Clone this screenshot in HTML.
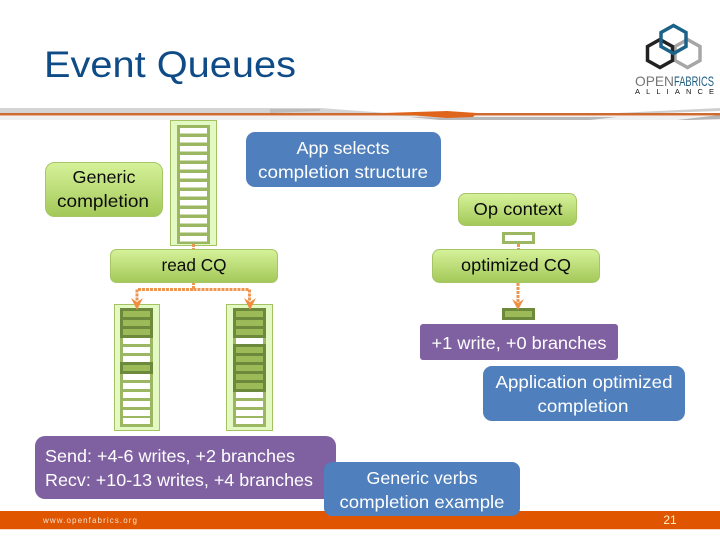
<!DOCTYPE html>
<html><head><meta charset="utf-8"><style>
html,body{margin:0;padding:0;background:#fff}
svg{display:block}
text{font-family:"Liberation Sans",sans-serif}
.d{fill:#0b0b0b;font-size:17.5px;text-anchor:middle}
.w{fill:#fff;font-size:17.5px;text-anchor:middle}
.wl{fill:#fff;font-size:17.5px}
</style></head><body>
<svg width="720" height="540" viewBox="0 0 720 540" xmlns="http://www.w3.org/2000/svg">
<defs>
<linearGradient id="g" x1="0" y1="0" x2="0" y2="1"><stop offset="0" stop-color="#d6f29a"/><stop offset="1" stop-color="#a3c858"/></linearGradient>
</defs>
<rect width="720" height="540" fill="#fff"/>

<!-- title -->
<text x="44" y="77" font-size="37" fill="#0f4c87" textLength="252" lengthAdjust="spacingAndGlyphs">Event Queues</text>

<!-- logo -->
<g fill="none" stroke-width="3.5">
<polygon points="687.500,39.500 700,46.500 700,60.500 687.500,67.500 675,60.500 675,46.500" stroke="#a6a6a6"/>
<polygon points="660,39.500 672.500,46.500 672.500,60.500 660,67.500 647.500,60.500 647.500,46.500" stroke="#222"/>
<polygon points="673.500,25.500 686,32.500 686,46.500 673.500,53.500 661,46.500 661,32.500" stroke="#1b6288"/>
</g>
<text x="635" y="86" font-size="14" fill="#777" textLength="39" lengthAdjust="spacingAndGlyphs">OPEN</text>
<text x="674" y="86" font-size="14" fill="#1b5b82" textLength="40" lengthAdjust="spacingAndGlyphs">FABRICS</text>
<text x="635" y="94" font-size="7.5" fill="#111" textLength="79">ALLIANCE</text>

<!-- header swoosh -->
<rect x="0" y="116" width="720" height="4" fill="#f0f0f0"/>
<polygon points="0,108 320,108 387,113 0,113" fill="#d4d4d4"/>
<polygon points="270,109 320,109 320,111 270,113" fill="#bdbdbd"/>
<polygon points="617,113 720,108 720,111 660,113" fill="#cfcfcf"/>
<polygon points="410,117 617,117 590,120 440,120" fill="#b8b8b8"/>
<polygon points="677,120 720,115 720,119 690,120" fill="#b5b5b5"/>
<polygon points="443,108 617,108 617,113 443,113" fill="#fff"/>
<polygon points="383,115 447,115 452,118 420,117" fill="#ddd"/>
<rect x="0" y="113" width="720" height="2.5" fill="#cf6a33"/>
<polygon points="383,113 447,111 477,113 473,117 447,118" fill="#e0651c"/>

<!-- footer -->
<rect x="0" y="511" width="720" height="18" fill="#e05500"/>
<rect x="0" y="529" width="720" height="1" fill="#f7d8c2"/>
<text x="43" y="523" font-size="8" fill="#f3e2d0" textLength="94">www.openfabrics.org</text>
<text x="670" y="524" font-size="12" fill="#fff0c8" text-anchor="middle">21</text>

<!-- queue 1 -->
<rect x="170.500" y="120.500" width="46" height="125" fill="#e4f8c4" stroke="#a3c262"/>
<rect x="177" y="125" width="33" height="119" fill="#9cb761"/>
<g fill="#fff">
<rect x="180" y="128" width="27" height="5.500"/><rect x="180" y="137" width="27" height="5.500"/><rect x="180" y="146" width="27" height="5.500"/><rect x="180" y="155" width="27" height="5.500"/><rect x="180" y="164" width="27" height="5.500"/><rect x="180" y="173" width="27" height="5.500"/><rect x="180" y="182" width="27" height="5.500"/><rect x="180" y="191" width="27" height="5.500"/><rect x="180" y="200" width="27" height="5.500"/><rect x="180" y="209" width="27" height="5.500"/><rect x="180" y="218" width="27" height="5.500"/><rect x="180" y="227" width="27" height="5.500"/><rect x="180" y="236" width="27" height="5.500"/>
</g>

<!-- queue 2 -->
<rect x="114.500" y="304.500" width="45" height="126" fill="#e4f8c4" stroke="#a3c262"/>
<rect x="120" y="308" width="33" height="119" fill="#9cb761"/>
<rect x="120" y="308" width="33" height="30" fill="#6d8a3c"/>
<rect x="120" y="362" width="33" height="12" fill="#6d8a3c"/>
<g fill="#9cbb58">
<rect x="123" y="311" width="27" height="6"/><rect x="123" y="320" width="27" height="6"/><rect x="123" y="329" width="27" height="6"/><rect x="123" y="365" width="27" height="6"/>
</g>
<g fill="#fff">
<rect x="123" y="338" width="27" height="6"/><rect x="123" y="347" width="27" height="6"/><rect x="123" y="356" width="27" height="6"/><rect x="123" y="374" width="27" height="6"/><rect x="123" y="383" width="27" height="6"/><rect x="123" y="392" width="27" height="6"/><rect x="123" y="401" width="27" height="6"/><rect x="123" y="410" width="27" height="6"/><rect x="123" y="418" width="27" height="6"/>
</g>

<!-- queue 3 -->
<rect x="226.500" y="304.500" width="46" height="126" fill="#e4f8c4" stroke="#a3c262"/>
<rect x="233" y="308" width="33" height="119" fill="#9cb761"/>
<rect x="233" y="308" width="33" height="30" fill="#6d8a3c"/>
<rect x="233" y="344" width="33" height="48" fill="#6d8a3c"/>
<g fill="#9cbb58">
<rect x="236" y="311" width="27" height="6"/><rect x="236" y="320" width="27" height="6"/><rect x="236" y="329" width="27" height="6"/><rect x="236" y="347" width="27" height="6"/><rect x="236" y="356" width="27" height="6"/><rect x="236" y="365" width="27" height="6"/><rect x="236" y="374" width="27" height="6"/><rect x="236" y="383" width="27" height="6"/>
</g>
<g fill="#fff">
<rect x="236" y="338" width="27" height="6"/><rect x="236" y="392" width="27" height="6"/><rect x="236" y="401" width="27" height="6"/><rect x="236" y="410" width="27" height="6"/><rect x="236" y="418" width="27" height="6"/>
</g>

<!-- small slots -->
<rect x="503.500" y="233.500" width="30" height="9" fill="#fff" stroke="#9cb761" stroke-width="3"/>
<rect x="503.500" y="309.500" width="30" height="9" fill="#9cbb58" stroke="#6d8a3c" stroke-width="3"/>

<!-- connectors -->
<g fill="none" stroke="#ee9650" stroke-width="3" stroke-dasharray="3 1">
<path d="M193.500 244V250"/>
<path d="M193.500 282V289.500H137V301"/>
<path d="M193.500 289.500H249.500V301"/>
<path d="M518.500 244V250"/>
<path d="M518 283V302"/>
</g>
<g fill="#ef8e42">
<polygon points="131,298 137,302 143,298 137,310"/>
<polygon points="244,298 250,302 256,298 250,310"/>
<polygon points="512,299 518,303 524,299 518,310"/>
</g>

<!-- green boxes -->
<g fill="url(#g)" stroke="#a6c566">
<rect x="45.500" y="162.500" width="117" height="54" rx="9"/>
<rect x="110.500" y="249.500" width="167" height="33" rx="6"/>
<rect x="458.500" y="193.500" width="118" height="32" rx="7"/>
<rect x="432.500" y="249.500" width="167" height="33" rx="7"/>
</g>
<text class="d" x="104" y="183" textLength="63" lengthAdjust="spacingAndGlyphs">Generic</text>
<text class="d" x="103" y="207" textLength="92" lengthAdjust="spacingAndGlyphs">completion</text>
<text class="d" x="194" y="271" textLength="65" lengthAdjust="spacingAndGlyphs">read CQ</text>
<text class="d" x="518" y="215" textLength="89" lengthAdjust="spacingAndGlyphs">Op context</text>
<text class="d" x="516" y="271" textLength="110" lengthAdjust="spacingAndGlyphs">optimized CQ</text>

<!-- purple boxes -->
<rect x="35" y="436" width="301" height="63" rx="10" fill="#7f60a1"/>
<text class="wl" x="45" y="462" textLength="250" lengthAdjust="spacingAndGlyphs">Send: +4-6 writes, +2 branches</text>
<text class="wl" x="45" y="486" textLength="268" lengthAdjust="spacingAndGlyphs">Recv: +10-13 writes, +4 branches</text>
<rect x="420" y="324" width="198" height="36" rx="3" fill="#7f60a1"/>
<text class="w" x="519" y="349" textLength="175" lengthAdjust="spacingAndGlyphs">+1 write, +0 branches</text>

<!-- blue boxes -->
<g fill="#4f7fbc">
<rect x="246" y="132" width="195" height="55" rx="9"/>
<rect x="483" y="366" width="202" height="55" rx="9"/>
<rect x="324" y="462" width="196" height="54" rx="8"/>
</g>
<text class="w" x="343" y="154" textLength="93" lengthAdjust="spacingAndGlyphs">App selects</text>
<text class="w" x="343" y="178" textLength="170" lengthAdjust="spacingAndGlyphs">completion structure</text>
<text class="w" x="584" y="388" textLength="177" lengthAdjust="spacingAndGlyphs">Application optimized</text>
<text class="w" x="583" y="412" textLength="91" lengthAdjust="spacingAndGlyphs">completion</text>
<text class="w" x="422" y="484" textLength="111" lengthAdjust="spacingAndGlyphs">Generic verbs</text>
<text class="w" x="422" y="508" textLength="165" lengthAdjust="spacingAndGlyphs">completion example</text>
</svg>
</body></html>
